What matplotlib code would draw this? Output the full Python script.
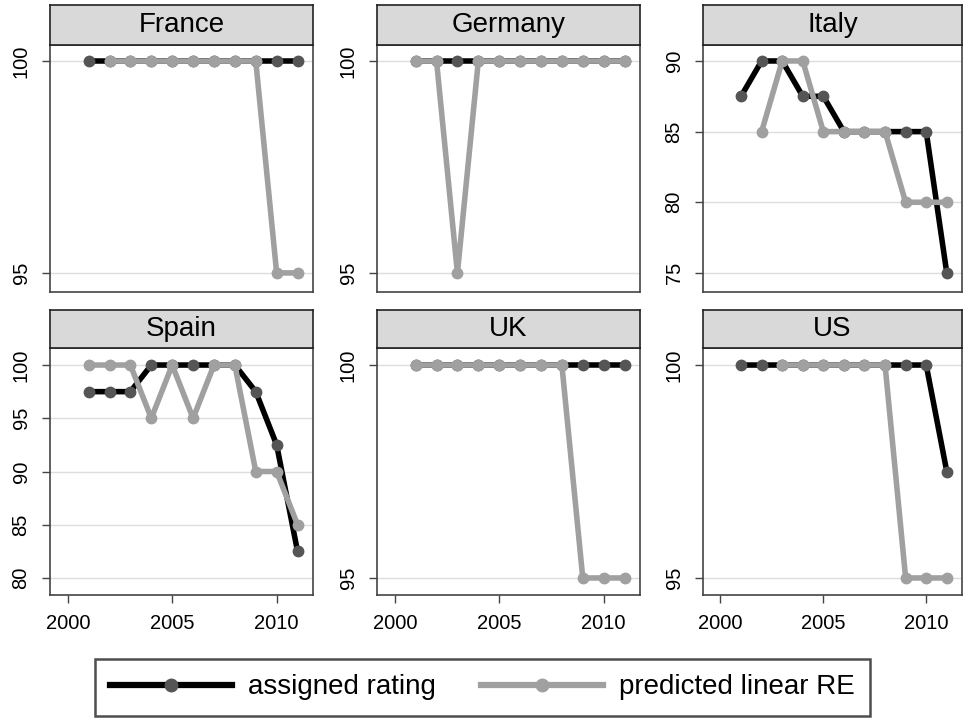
import numpy as np
import matplotlib
matplotlib.use("Agg")
import matplotlib.pyplot as plt
from matplotlib.lines import Line2D

plt.rcParams['font.family'] = ['Liberation Sans', 'DejaVu Sans']

nan = np.nan
years = list(range(2001, 2012))
countries = ["France", "Germany", "Italy", "Spain", "UK", "US"]

assigned = {
    "France":  [100, 100, 100, 100, 100, 100, 100, 100, 100, 100, 100],
    "Germany": [100, 100, 100, 100, 100, 100, 100, 100, 100, 100, 100],
    "Italy":   [87.5, 90, 90, 87.5, 87.5, 85, 85, 85, 85, 85, 75],
    "Spain":   [97.5, 97.5, 97.5, 100, 100, 100, 100, 100, 97.5, 92.5, 82.5],
    "UK":      [100, 100, 100, 100, 100, 100, 100, 100, 100, 100, 100],
    "US":      [100, 100, 100, 100, 100, 100, 100, 100, 100, 100, 97.5],
}
predicted = {
    "France":  [nan, 100, 100, 100, 100, 100, 100, 100, 100, 95, 95],
    "Germany": [100, 100, 95, 100, 100, 100, 100, 100, 100, 100, 100],
    "Italy":   [nan, 85, 90, 90, 85, 85, 85, 85, 80, 80, 80],
    "Spain":   [100, 100, 100, 95, 100, 95, 100, 100, 90, 90, 85],
    "UK":      [100, 100, 100, 100, 100, 100, 100, 100, 95, 95, 95],
    "US":      [nan, nan, 100, 100, 100, 100, 100, 100, 95, 95, 95],
}
yticks = {
    "France": [95, 100], "Germany": [95, 100], "Italy": [75, 80, 85, 90],
    "Spain": [80, 85, 90, 95, 100], "UK": [95, 100], "US": [95, 100],
}
ylims = {
    "France": (94.55, 100.38), "Germany": (94.55, 100.38), "Italy": (73.65, 91.13),
    "Spain": (78.4, 101.6), "UK": (94.6, 100.4), "US": (94.6, 100.4),
}
xticks = [2000, 2005, 2010]

W, H = 963, 720
fig = plt.figure(figsize=(W / 100, H / 100), dpi=100)

def box(x0, x1, y0, y1):
    return [x0 / W, 1 - y1 / H, (x1 - x0) / W, (y1 - y0) / H]

cols = [(50, 313), (377, 640), (703, 962)]
rows = [((5, 45), (45, 292)), ((310, 348), (348, 595))]

black = "#000000"
dark_marker = "#555555"
grey = "#a0a0a0"
spine_col = "#444444"

for i, c in enumerate(countries):
    r, k = divmod(i, 3)
    (sy0, sy1), (py0, py1) = rows[r]
    x0, x1 = cols[k]

    ax = fig.add_axes(box(x0, x1, py0, py1))
    ax.plot(years, assigned[c], color=black, lw=4, marker="o", ms=7.5,
            mfc=dark_marker, mec=dark_marker, zorder=3)
    ax.plot(years, predicted[c], color=grey, lw=4, marker="o", ms=7.5,
            mfc=grey, mec=grey, zorder=4)
    ax.set_xlim(1999.15, 2011.74)
    ax.set_ylim(*ylims[c])
    ax.set_yticks(yticks[c])
    ax.set_yticklabels([str(v) for v in yticks[c]], rotation=90, va="center")
    ax.set_xticks(xticks)
    if r == 0:
        ax.tick_params(axis="x", bottom=False, labelbottom=False)
    ax.tick_params(axis="both", labelsize=14.5, length=6, width=1, color=spine_col)
    ax.tick_params(axis="y", pad=8)
    ax.tick_params(axis="x", pad=8)
    ax.grid(axis="y", color="#dddddd", lw=1)
    ax.set_axisbelow(True)
    for s in ax.spines.values():
        s.set_color(spine_col)
        s.set_linewidth(1.2)

    sax = fig.add_axes(box(x0, x1, sy0, sy1))
    sax.set_facecolor("#d9d9d9")
    sax.set_xticks([])
    sax.set_yticks([])
    for s in sax.spines.values():
        s.set_color("#222222")
        s.set_linewidth(1.2)
    sax.text(0.5, 0.5, c, ha="center", va="center", fontsize=20,
             transform=sax.transAxes)

handles = [
    Line2D([], [], color=black, lw=4.5, marker="o", ms=9, mfc=dark_marker, mec=dark_marker),
    Line2D([], [], color=grey, lw=4.5, marker="o", ms=9, mfc=grey, mec=grey),
]
leg = fig.legend(handles, ["assigned rating", "predicted linear RE"], ncol=2,
                 loc="center", bbox_to_anchor=(482.5 / W, 1 - 687.5 / H),
                 fontsize=20, frameon=True, fancybox=False, numpoints=1,
                 handlelength=4.4, columnspacing=1.6, borderpad=0.55,
                 handletextpad=0.58)
leg.get_frame().set_edgecolor("#222222")
leg.get_frame().set_linewidth(1.8)

fig.savefig("out.png", dpi=100)
